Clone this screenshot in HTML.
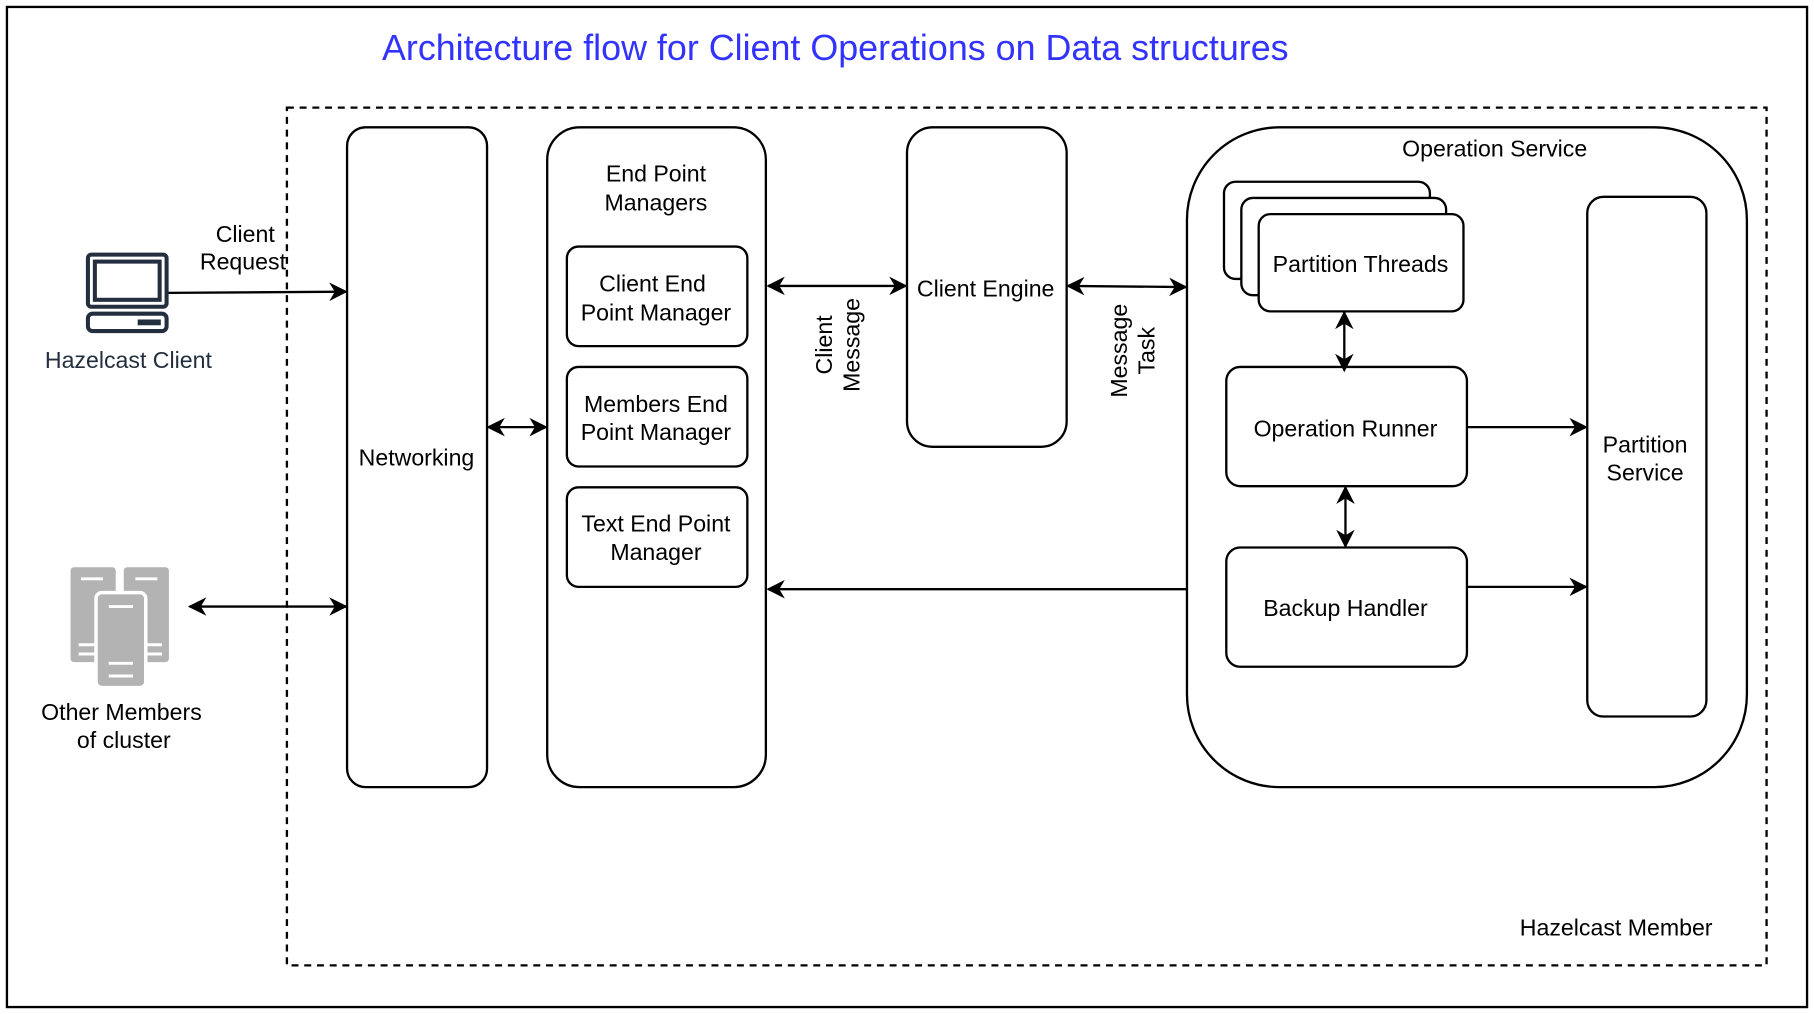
<!DOCTYPE html>
<html><head><style>
html,body{margin:0;padding:0;background:#fff;}
svg{display:block;}
text{font-family:"Liberation Sans",Arial,sans-serif;font-size:20px;fill:#000;}
</style></head><body>
<svg width="1814" height="1014" viewBox="0 0 1568 876" preserveAspectRatio="none" xmlns="http://www.w3.org/2000/svg">
<defs>
<marker id="a" viewBox="0 0 10 10" refX="9" refY="5" markerWidth="8" markerHeight="8" orient="auto-start-reverse" markerUnits="userSpaceOnUse">
<path d="M0,0 L10,5 L0,10 L3,5 z" fill="#000"/></marker>
<marker id="b" viewBox="0 0 10 10" refX="9" refY="5" markerWidth="16" markerHeight="16" orient="auto-start-reverse" markerUnits="userSpaceOnUse">
<path d="M0,0 L10,5 L0,10 L3,5 z" fill="#000"/></marker>
</defs>
<rect x="6" y="6" width="1556" height="864" fill="#fff" stroke="#000" stroke-width="2"/>
<text x="722" y="52" text-anchor="middle" style="font-size:31px;fill:#3333ff">Architecture flow for Client Operations on Data structures</text>
<rect x="248" y="93" width="1279" height="741" fill="none" stroke="#000" stroke-width="2" stroke-dasharray="6,5"/>
<g fill="none" stroke="#000" stroke-width="2">
<rect x="300" y="110" width="121" height="570" rx="16"/>
<rect x="473" y="110" width="189" height="570" rx="28"/>
<rect x="490" y="213" width="156" height="86" rx="10"/>
<rect x="490" y="317" width="156" height="86" rx="10"/>
<rect x="490" y="421" width="156" height="86" rx="10"/>
<rect x="784" y="110" width="138" height="276" rx="22"/>
<rect x="1026" y="110" width="484" height="570" rx="80"/>
<rect x="1058" y="157" width="178" height="84" rx="10" fill="#fff"/>
<rect x="1073" y="171" width="177" height="84" rx="10" fill="#fff"/>
<rect x="1088" y="185" width="177" height="84" rx="10" fill="#fff"/>
<rect x="1060" y="317" width="208" height="103" rx="12"/>
<rect x="1060" y="473" width="208" height="103" rx="12"/>
<rect x="1372" y="170" width="103" height="449" rx="14"/>
</g>
<g stroke="#000" stroke-width="2" fill="none">
<line x1="145" y1="253" x2="299" y2="252" marker-end="url(#b)"/>
<line x1="164" y1="524" x2="299" y2="524" marker-start="url(#b)" marker-end="url(#b)"/>
<line x1="422" y1="369" x2="472" y2="369" marker-start="url(#b)" marker-end="url(#b)"/>
<line x1="664" y1="247" x2="783" y2="247" marker-start="url(#b)" marker-end="url(#b)"/>
<line x1="923" y1="247" x2="1025" y2="248" marker-start="url(#b)" marker-end="url(#b)"/>
<line x1="1162" y1="270" x2="1162" y2="320" marker-start="url(#b)" marker-end="url(#b)"/>
<line x1="1163" y1="421" x2="1163" y2="472" marker-start="url(#b)" marker-end="url(#b)"/>
<line x1="1268" y1="369" x2="1371" y2="369" marker-end="url(#b)"/>
<line x1="1268" y1="507" x2="1371" y2="507" marker-end="url(#b)"/>
<line x1="1026" y1="509" x2="664" y2="509" marker-end="url(#b)"/>
</g>
<!-- laptop icon -->
<g fill="none" stroke="#232f3e" stroke-width="3.5">
<rect x="76" y="220" width="68" height="45" rx="3"/>
<rect x="82" y="226" width="56" height="33"/>
<rect x="76" y="271" width="68" height="15" rx="4"/>
</g>
<rect x="119" y="276" width="20" height="5" fill="#232f3e"/>
<!-- servers icon -->
<g fill="#b3b3b3">
<rect x="61" y="490" width="39" height="82" rx="3"/>
<rect x="107" y="490" width="39" height="82" rx="3"/>
<rect x="83" y="512" width="43" height="82" rx="5" stroke="#fff" stroke-width="3"/>
</g>
<g stroke="#fff" stroke-width="2.5">
<line x1="70" y1="500" x2="89" y2="500"/><line x1="117" y1="500" x2="136" y2="500"/>
<line x1="94" y1="524" x2="115" y2="524"/>
<line x1="68" y1="557" x2="83" y2="557"/><line x1="68" y1="565" x2="83" y2="565"/>
<line x1="126" y1="557" x2="140" y2="557"/><line x1="126" y1="565" x2="140" y2="565"/>
<line x1="94" y1="573" x2="115" y2="573"/><line x1="94" y1="584" x2="115" y2="584"/>
</g>
<g text-anchor="middle">
<text x="212" y="209">Client</text>
<text x="210" y="233">Request</text>
<text x="111" y="318" style="fill:#232f3e">Hazelcast Client</text>
<text x="105" y="622">Other Members</text>
<text x="107" y="646">of cluster</text>
<text x="360" y="402">Networking</text>
<text x="567" y="157">End Point</text>
<text x="567" y="182">Managers</text>
<text x="564" y="252">Client End</text>
<text x="567" y="277">Point Manager</text>
<text x="567" y="356">Members End</text>
<text x="567" y="380">Point Manager</text>
<text x="567" y="459">Text End Point</text>
<text x="567" y="484">Manager</text>
<text x="852" y="256">Client Engine</text>
<text x="1292" y="135">Operation Service</text>
<text x="1176" y="235">Partition Threads</text>
<text x="1163" y="377">Operation Runner</text>
<text x="1163" y="532">Backup Handler</text>
<text x="1422" y="391">Partition</text>
<text x="1422" y="415">Service</text>
<text x="1397" y="808">Hazelcast Member</text>
<text transform="translate(719,298) rotate(-90)">Client</text>
<text transform="translate(743,298) rotate(-90)">Message</text>
<text transform="translate(974,303) rotate(-90)">Message</text>
<text transform="translate(998,303) rotate(-90)">Task</text>
</g>
</svg>
</body></html>
